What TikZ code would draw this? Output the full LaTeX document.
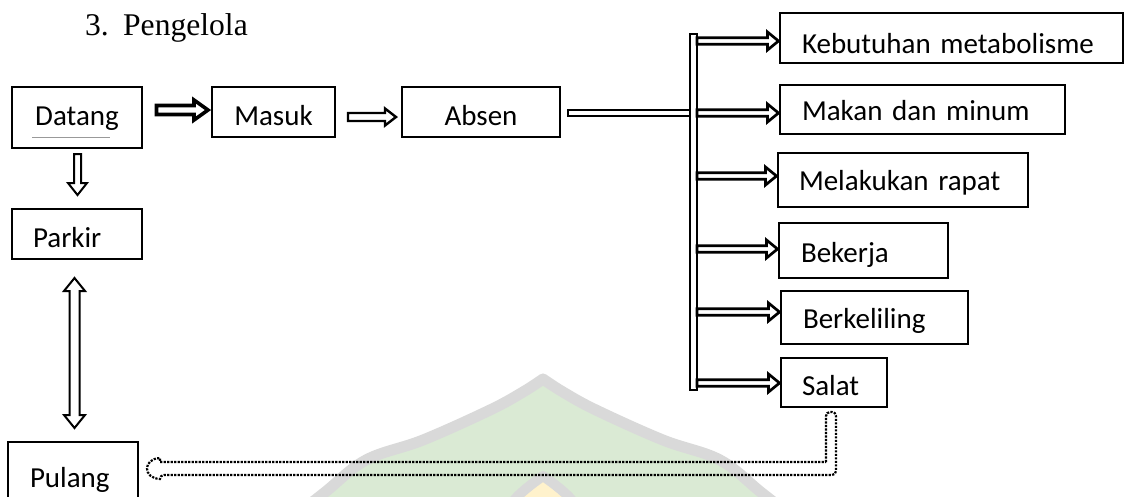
\documentclass[tikz,border=0pt]{standalone}
\usepackage{fontspec}
\newfontfamily\calfont{Carlito}
\newfontfamily\timesfont{Liberation Serif}
\usetikzlibrary{calc}
\definecolor{wmgreen}{RGB}{218,234,212}
\definecolor{wmgrey}{RGB}{217,217,217}
\definecolor{wmyellow}{RGB}{255,242,204}

% hollow block arrow: [style]{start}{end}{shaft half width}{head half width}{head length}
\newcommand\hollowarrow[6][]{%
  \path ($(#3)!#6!(#2)$) coordinate (hwh);
  \draw[#1] ($(#2)!#4!90:(#3)$) -- ($(hwh)!#4!-90:(#2)$) -- ($(hwh)!#5!-90:(#2)$)
    -- (#3) -- ($(hwh)!#5!90:(#2)$) -- ($(hwh)!#4!90:(#2)$) -- ($(#2)!#4!-90:(#3)$) -- cycle;
}
% hollow double-headed block arrow
\newcommand\hollowdarrow[6][]{%
  \path ($(#2)!#6!(#3)$) coordinate (hwa);
  \path ($(#3)!#6!(#2)$) coordinate (hwb);
  \draw[#1] (#2) -- ($(hwa)!#5!90:(#3)$) -- ($(hwa)!#4!90:(#3)$) -- ($(hwb)!#4!-90:(#2)$)
    -- ($(hwb)!#5!-90:(#2)$) -- (#3) -- ($(hwb)!#5!90:(#2)$) -- ($(hwb)!#4!90:(#2)$)
    -- ($(hwa)!#4!-90:(#3)$) -- ($(hwa)!#5!-90:(#3)$) -- cycle;
}

\begin{document}
\begin{tikzpicture}[x=1pt,y=-1pt,
  every node/.style={outer sep=0pt},
  box/.style={draw, line width=1.4pt, inner sep=0pt, anchor=base west,
    font=\calfont\fontsize{29pt}{34pt}\selectfont},
  cbox/.style={box, align=center},
  lbox/.style={box, align=left, execute at begin node={\noindent\hspace*{#1}}},
  harr/.style={draw=black, fill=white, line width=#1, line join=miter},
  dotarr/.style={draw=black, line width=2.2pt, dash pattern=on 2.2pt off 1.3pt},
  wm/.style={draw=wmgrey, line width=#1, line join=round}]
\useasboundingbox (0,0) rectangle (1125,496);
\clip (0,0) rectangle (1125,496);

% faint watermark (dome)
\filldraw[wm=11pt, fill=wmgreen]
  plot[smooth, tension=0.6] coordinates {(277,530) (324,493) (366,460) (423,440) (490,410) (523,392) (543,379)}
  -- plot[smooth, tension=0.6] coordinates {(543,379) (563,392) (596,410) (663,440) (720,460) (762,493) (809,530)}
  -- cycle;
\filldraw[wm=10pt, fill=wmyellow]
  plot[smooth, tension=0.6] coordinates {(490,530) (518,496) (543,476)}
  -- plot[smooth, tension=0.6] coordinates {(543,476) (568,496) (596,530)} -- cycle;

% title
\node[font=\timesfont\fontsize{31.6pt}{36pt}\selectfont, anchor=base west, inner sep=0pt]
  (title) at (85,35) {3.\hspace{14.5pt}Pengelola};

% boxes (anchored at left edge / text baseline)
\node[cbox, text width=130pt, text height=38pt, text depth=23pt] (datang) at (12,125) {Datang};
\node[cbox, text width=123pt, text height=38pt, text depth=12pt] (masuk) at (212,125) {Masuk};
\node[cbox, text width=158pt, text height=38pt, text depth=12pt] (absen) at (402,125) {Absen};
\node[lbox=21pt, text width=130pt, text height=38pt, text depth=12pt] (parkir) at (12,247) {Parkir};
\node[lbox=22pt, text width=130pt, text height=45pt, text depth=23pt] (pulang) at (8,487) {Pulang};
\node[lbox=22pt, text width=343pt, text height=40pt, text depth=10pt] (keb) at (780,53) {Kebutuhan metabolisme};
\node[lbox=22pt, text width=285pt, text height=35pt, text depth=14pt] (makan) at (780,120) {Makan dan minum};
\node[lbox=21pt, text width=250pt, text height=37pt, text depth=17pt] (mel) at (778,190) {Melakukan rapat};
\node[lbox=22pt, text width=169pt, text height=39pt, text depth=16pt] (bek) at (779,262) {Bekerja};
\node[lbox=22pt, text width=187pt, text height=37pt, text depth=16pt] (berk) at (781,328) {Berkeliling};
\node[lbox=21pt, text width=106pt, text height=37pt, text depth=12pt] (salat) at (781,395) {Salat};

% thin grey underline under Datang
\draw[line width=0.8pt, black!40] ($(datang.south west)+(20,-11)$) -- ($(datang.south west)+(98,-11)$);

% vertical distribution bar
\node[draw, line width=2.8pt, fill=white, minimum width=7pt, minimum height=356pt, inner sep=0pt]
  (bar) at (693.5,212) {};

% Datang -> Masuk
\coordinate (a1s) at ($(datang.east)+(14.5,-7.5)$);
\coordinate (a1e) at ($(masuk.west)+(-4,-2)$);
\hollowarrow[harr=3.6pt]{a1s}{a1e}{4.5pt}{10pt}{14pt}

% Masuk -> Absen
\coordinate (a2s) at ($(masuk.east)+(13,5)$);
\coordinate (a2e) at ($(absen.west)+(-6,5)$);
\hollowarrow[harr=2.4pt]{a2s}{a2e}{4pt}{8.5pt}{11pt}

% Absen -> bar
\draw[harr=2.5pt] ($(absen.east)+(8,-2)$) rectangle ($(absen.east -| bar.west)+(0,4)$);

% bar -> activity boxes
\foreach \n/\o [count=\i] in {keb/3, makan/3.5, mel/-4, bek/-1.5, berk/-5.5, salat/0.5} {
  \coordinate (bs\i) at ($(\n.west -| bar.east)+(0,\o)$);
  \coordinate (be\i) at ($(\n.west)+(-1.5,\o)$);
  \hollowarrow[harr=2.7pt]{bs\i}{be\i}{3.2pt}{9pt}{11pt}
}

% Datang -> Parkir
\coordinate (c1s) at ($(datang.south)+(0.5,6)$);
\coordinate (c1e) at ($(parkir.north)+(0.5,-14)$);
\hollowarrow[harr=2pt]{c1s}{c1e}{3.5pt}{9.5pt}{12pt}

% Parkir <-> Pulang
\coordinate (d1s) at ($(parkir.south)+(-2.5,19)$);
\coordinate (d1e) at ($(pulang.north)+(1.5,-14)$);
\hollowdarrow[harr=2pt]{d1s}{d1e}{5pt}{10.5pt}{13pt}

% Salat -> Pulang (dotted)
\coordinate (dA) at ($(salat.south)+(-3,5)$);
\coordinate (dB) at ($(pulang.east)+(9,-7.5)$);
\draw[dotarr, rounded corners=4pt]
  ($(dA |- dB)+(-5,-6.5)$) -- ($(dA)+(-5,0)$) -- ($(dA)+(5,0)$) -- ($(dA |- dB)+(5,6.5)$)
  -- ($(dB)+(13,6.5)$) [sharp corners] -- ($(dB)+(13,10.5)$)
  .. controls ($(dB)+(4,10)$) and ($(dB)+(0,5)$) .. (dB)
  .. controls ($(dB)+(0,-5)$) and ($(dB)+(4,-10)$) .. ($(dB)+(13,-10.5)$)
  -- ($(dB)+(13,-6.5)$) -- cycle;
\end{tikzpicture}
\end{document}
